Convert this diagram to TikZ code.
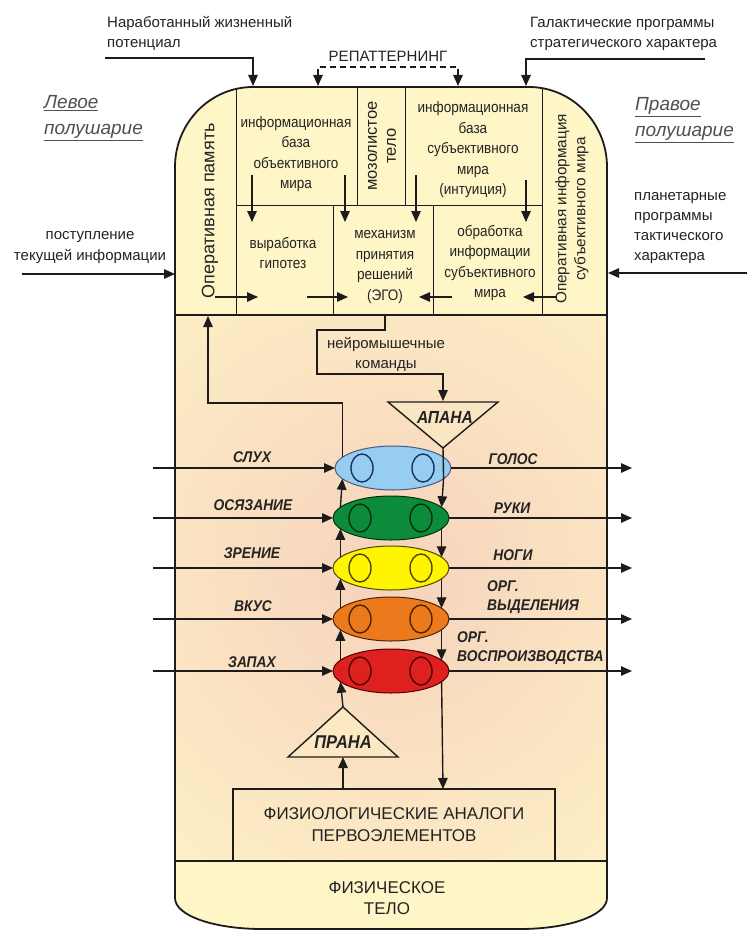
\documentclass[tikz,border=0pt]{standalone}
\usepackage{fontspec}
\setmainfont{Liberation Sans}
\newfontfamily\narrowfont[FakeStretch=0.89]{Liberation Sans}
\usetikzlibrary{arrows.meta,shapes.geometric}
\definecolor{cream}{RGB}{255,246,200}
\definecolor{glow}{RGB}{246,210,188}
\definecolor{ink}{RGB}{30,27,28}
\definecolor{txt}{RGB}{35,35,35}
\definecolor{hemi}{RGB}{80,80,80}
\definecolor{cblue}{RGB}{150,205,240}
\definecolor{cbluel}{RGB}{25,50,100}
\definecolor{cgreen}{RGB}{12,140,58}
\definecolor{cgreenl}{RGB}{0,50,18}
\definecolor{cyellow}{RGB}{255,245,0}
\definecolor{cyellowl}{RGB}{80,70,0}
\definecolor{corange}{RGB}{236,122,28}
\definecolor{corangel}{RGB}{80,35,0}
\definecolor{cred}{RGB}{222,32,30}
\definecolor{credl}{RGB}{80,0,0}
\begin{document}
\begin{tikzpicture}[x=1pt,y=-1pt,
  tip/.style={-{Triangle[length=11pt,width=9.5pt]}},
  arr/.style={tip, line width=1.4pt, draw=ink},
  ln/.style={line width=1.4pt, draw=ink},
  thinln/.style={line width=1pt, draw=ink},
  lbl/.style={text=txt, inner sep=0pt, align=center, font=\fontsize{15}{20}\selectfont},
  inbox/.style={text=txt, inner sep=0pt, align=center, font=\narrowfont\fontsize{15.2}{20.5}\selectfont},
  rot/.style={text=txt, inner sep=0pt, align=center, rotate=90, font=\fontsize{16.5}{19}\selectfont},
  hemilbl/.style={text=hemi, inner sep=0pt, align=left, font=\fontsize{19}{26}\selectfont\itshape},
  sense/.style={text=txt, inner sep=0pt, align=left, font=\narrowfont\fontsize{15.5}{19.5}\selectfont\bfseries\itshape},
  chakra/.style={ellipse, minimum width=116pt, minimum height=44pt, inner sep=0pt, outer sep=0pt, line width=1pt},
  eye/.style={ellipse, minimum width=22pt, minimum height=28pt, inner sep=0pt, line width=1.4pt},
]
\useasboundingbox (0,0) rectangle (747,931);

% ---------- body fill ----------
\path[fill=cream] (175,315) -- (175,167) .. controls (175,123) and (210,87) .. (253,87)
  -- (529,87) .. controls (572,87) and (607,123) .. (607,167) -- (607,898)
  .. controls (607,916) and (567,929) .. (520,929) -- (262,929)
  .. controls (215,929) and (175,916) .. (175,898) -- cycle;
\begin{scope}
  \clip (175,315) rectangle (607,861);
  \shade[inner color=glow, outer color=cream] (392,575) circle (440);
\end{scope}

% ---------- brain compartments ----------
\draw[thinln] (236,89) -- (236,315);
\draw[thinln] (542,88) -- (542,315);
\draw[thinln] (357,87) -- (357,205);
\draw[thinln] (405,87) -- (405,205);
\draw[thinln] (236,205) -- (542,205);
\draw[thinln] (333,205) -- (333,315);
\draw[thinln] (433,205) -- (433,315);

% outline
\draw[line width=1.8pt, ink] (175,315) -- (175,167) .. controls (175,123) and (210,87) .. (253,87)
  -- (529,87) .. controls (572,87) and (607,123) .. (607,167) -- (607,898)
  .. controls (607,916) and (567,929) .. (520,929) -- (262,929)
  .. controls (215,929) and (175,916) .. (175,898) -- cycle;
\draw[line width=1.8pt, ink] (175,315) -- (607,315);
\draw[line width=1.8pt, ink] (175,861) -- (607,861);

% texts in compartments
\node[rot, font=\fontsize{18}{19}\selectfont] (opmem) at (210,211) {Оперативная память};
\node[rot, font=\fontsize{15.3}{19}\selectfont] (opinf) at (572,209) {Оперативная информация\\субъективного мира};
\node[rot] (mozol) at (382,146) {мозолистое\\тело};
\node[inbox] (objbase) at (296,154) {информационная\\база\\объективного\\мира};
\node[inbox] (subbase) at (473,150) {информационная\\база\\субъективного\\мира\\(интуиция)};
\node[inbox] (hypo) at (283,253) {выработка\\гипотез};
\node[inbox] (ego) at (385,267) {механизм\\принятия\\решений\\(ЭГО)};
\node[inbox] (proc) at (490,263) {обработка\\информации\\субъективного\\мира};

% arrows inside brain
\coordinate (a1s) at (252,175); \coordinate (a1e) at (252,222);
\coordinate (a2s) at (345,175); \coordinate (a2e) at (345,222);
\coordinate (a3s) at (416,175); \coordinate (a3e) at (416,222);
\coordinate (a4s) at (526,180); \coordinate (a4e) at (526,222);
\draw[arr] (a1s) -- (a1e);
\draw[arr] (a2s) -- (a2e);
\draw[arr] (a3s) -- (a3e);
\draw[arr] (a4s) -- (a4e);
\coordinate (h1s) at (215,297); \coordinate (h1e) at (258,297);
\coordinate (h2s) at (307,297); \coordinate (h2e) at (348,297);
\coordinate (h3s) at (452,297); \coordinate (h3e) at (419,297);
\coordinate (h4s) at (557,297); \coordinate (h4e) at (523,297);
\draw[arr] (h1s) -- (h1e);
\draw[arr] (h2s) -- (h2e);
\draw[arr] (h3s) -- (h3e);
\draw[arr] (h4s) -- (h4e);

% ---------- outer labels ----------
\node[lbl, align=left, anchor=west] (potent) at (107,33) {Наработанный жизненный\\потенциал};
\node[lbl, align=left, anchor=west] (galact) at (530,34) {Галактические программы\\стратегического характера};
\coordinate (pl) at (105,58); \coordinate (pt) at (253,86);
\draw[arr] (pl) -| (pt);
\coordinate (gl) at (705,59); \coordinate (gt) at (526,86);
\draw[arr] (gl) -| (gt);

\node[lbl] (repat) at (388,56) {РЕПАТТЕРНИНГ};
\coordinate (r1) at (318,86); \coordinate (r2) at (458,86);
\draw[line width=1.4pt, ink, dash pattern=on 6pt off 4pt, {Triangle[length=11pt,width=9.5pt]}-{Triangle[length=11pt,width=9.5pt]}]
  (r1) -- (318,67) -- (458,67) -- (r2);

\node[hemilbl, anchor=west] (left) at (44,118) {\underline{Левое}\\\underline{полушарие}};
\node[hemilbl, anchor=west] (right) at (635,120) {\underline{Правое}\\\underline{полушарие}};

\node[lbl, font=\fontsize{15}{21}\selectfont] (inflow) at (90,248) {поступление\\текущей информации};
\coordinate (inl) at (22,274); \coordinate (inr) at (175,274);
\draw[arr] (inl) -- (inr);
\node[lbl, align=left, anchor=west, font=\fontsize{15}{19.7}\selectfont] (planet) at (634,228) {планетарные\\программы\\тактического\\характера};
\coordinate (plr) at (747,273); \coordinate (pll) at (608,273);
\draw[arr] (plr) -- (pll);

% ---------- chakras ----------
\node[chakra, fill=cblue, draw=cbluel!80] (c1) at (393,468) {};
\node[chakra, fill=cgreen, draw=cgreenl] (c2) at (391,518) {};
\node[chakra, fill=cyellow, draw=cyellowl] (c3) at (391,568) {};
\node[chakra, fill=corange, draw=corangel] (c4) at (391,619) {};
\node[chakra, fill=cred, draw=credl] (c5) at (391,671) {};
\path (c1) ++(-31,0) node[eye, draw=cbluel] (e1l) {} (c1) ++(30,0) node[eye, draw=cbluel] (e1r) {};
\path (c2) ++(-31,0) node[eye, draw=cgreenl] (e2l) {} (c2) ++(30,0) node[eye, draw=cgreenl] (e2r) {};
\path (c3) ++(-31,0) node[eye, draw=cyellowl] (e3l) {} (c3) ++(30,0) node[eye, draw=cyellowl] (e3r) {};
\path (c4) ++(-31,0) node[eye, draw=corangel] (e4l) {} (c4) ++(30,0) node[eye, draw=corangel] (e4r) {};
\path (c5) ++(-31,0) node[eye, draw=credl] (e5l) {} (c5) ++(30,0) node[eye, draw=credl] (e5r) {};

% spines
\draw[arr] (c2.168) -- (c1.192);
\draw[arr] (c3.168) -- (c2.192);
\draw[arr] (c4.168) -- (c3.192);
\draw[arr] (c5.168) -- (c4.192);
\draw[arr] (c1.-12) -- (c2.12);
\draw[arr] (c2.-12) -- (c3.12);
\draw[arr] (c3.-12) -- (c4.12);
\draw[arr] (c4.-12) -- (c5.12);

% apana
\coordinate (apL) at (388,402); \coordinate (apR) at (498,402); \coordinate (apB) at (443,448);
\draw[ln, fill=cream!55!glow] (apL) -- (apR) -- (apB) -- cycle;
\node[sense, font=\narrowfont\fontsize{17.5}{19.5}\selectfont\bfseries\itshape] (apana) at (445,417) {АПАНА};
\draw[ln] (apB) -- (c1.-12);

% prana
\coordinate (prT) at (343,707); \coordinate (prL) at (288,757); \coordinate (prR) at (398,757);
\draw[ln, fill=cream!65!glow] (prL) -- (prR) -- (prT) -- cycle;
\node[sense, font=\narrowfont\fontsize{18.5}{19.5}\selectfont\bfseries\itshape] (prana) at (343,742) {ПРАНА};
\draw[arr] (prT) -- (c5.192);

% neuro commands path
\coordinate (egoB) at (385,315);
\coordinate (nmA) at (443,401);
\draw[arr] (egoB) -- (385,330) -- (317,330) -- (317,374) -- (443,374) -- (nmA);
\node[lbl] (neuro) at (386,354) {нейромышечные\\команды};

% feedback path to operative memory
\coordinate (fbT) at (208,316);
\draw[arr] (c1.168) |- (208,403) -- (fbT);

% physiological box
\node[draw=ink, line width=1.4pt, minimum width=322pt, minimum height=72pt, inner sep=0pt, outer sep=0pt,
      text=txt, align=center, font=\fontsize{17}{22}\selectfont] (phys) at (394,825) {ФИЗИОЛОГИЧЕСКИЕ АНАЛОГИ\\ПЕРВОЭЛЕМЕНТОВ};
\draw[arr] (phys.north -| prT) -- (prT |- prL);
\draw[arr] (c5.-12) -- (phys.north -| apB);

\node[lbl, font=\fontsize{17}{21}\selectfont] (body) at (387,898) {ФИЗИЧЕСКОЕ\\ТЕЛО};

% senses in
\coordinate (s1) at (153,468); \coordinate (s2) at (153,518); \coordinate (s3) at (153,568);
\coordinate (s4) at (153,619); \coordinate (s5) at (153,671);
\draw[arr] (s1) -- (c1.west);
\draw[arr] (s2) -- (c2.west);
\draw[arr] (s3) -- (c3.west);
\draw[arr] (s4) -- (c4.west);
\draw[arr] (s5) -- (c5.west);
\node[sense] (sluh) at (252,457) {СЛУХ};
\node[sense] (osyaz) at (253,505) {ОСЯЗАНИЕ};
\node[sense] (zren) at (252,553) {ЗРЕНИЕ};
\node[sense] (vkus) at (253,606) {ВКУС};
\node[sense] (zapah) at (252,662) {ЗАПАХ};

% outputs
\coordinate (o1) at (632,468); \coordinate (o2) at (632,518); \coordinate (o3) at (632,568);
\coordinate (o4) at (632,619); \coordinate (o5) at (632,671);
\draw[arr] (c1.east) -- (o1);
\draw[arr] (c2.east) -- (o2);
\draw[arr] (c3.east) -- (o3);
\draw[arr] (c4.east) -- (o4);
\draw[arr] (c5.east) -- (o5);
\node[sense] (golos) at (513,459) {ГОЛОС};
\node[sense] (ruki) at (512,508) {РУКИ};
\node[sense] (nogi) at (513,555) {НОГИ};
\node[sense, anchor=west] (vyd) at (487,597) {ОРГ.\\ВЫДЕЛЕНИЯ};
\node[sense, anchor=west] (vospr) at (457,648) {ОРГ.\\ВОСПРОИЗВОДСТВА};
\end{tikzpicture}
\end{document}
